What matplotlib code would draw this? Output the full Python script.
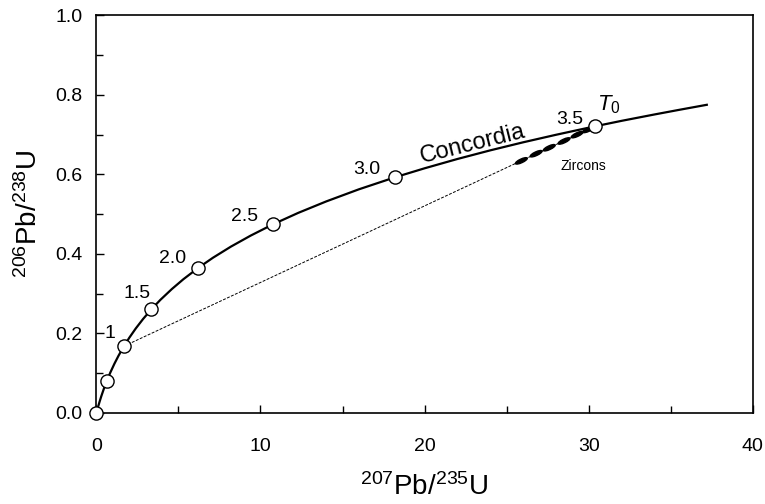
import numpy as np
import matplotlib
matplotlib.use("Agg")
import matplotlib.pyplot as plt
from matplotlib.patches import Ellipse
from matplotlib.transforms import ScaledTranslation

plt.rcParams["font.family"] = ["Liberation Sans", "DejaVu Sans"]
plt.rcParams["mathtext.fontset"] = "custom"
plt.rcParams["mathtext.rm"] = "Liberation Sans"
plt.rcParams["mathtext.it"] = "Liberation Sans:italic"

# ----------------------------
# Data
# ----------------------------
# concordia curve (207Pb/235U, 206Pb/238U)
curve_x = [0, 0.02, 0.05, 0.1, 0.2, 0.3, 0.45, 0.64, 0.85, 1.1, 1.35, 1.68,
           2.0, 2.4, 2.85, 3.35, 3.9, 4.6, 5.3, 6.17, 7.1, 8.2, 9.4, 10.75,
           12.3, 14.0, 16.0, 18.19, 20.0, 22.0, 24.0, 26.0, 28.0, 30.4,
           32.0, 34.0, 35.5, 37.2]
curve_y = [0, 0.0031, 0.0077, 0.0151, 0.0291, 0.0422, 0.0603, 0.0810,
           0.1018, 0.1240, 0.1441, 0.1680, 0.1889, 0.2126, 0.2366, 0.2606,
           0.2845, 0.3117, 0.3363, 0.3638, 0.3903, 0.4184, 0.4460, 0.4742,
           0.5032, 0.5319, 0.5625, 0.5926, 0.6153, 0.6387, 0.6604, 0.6806,
           0.6995, 0.7210, 0.7346, 0.7506, 0.7622, 0.7750]

# age markers on the curve (Ga)
marker_x = [0, 0.64, 1.68, 3.35, 6.17, 10.75, 18.19, 30.4]
marker_y = [0, 0.081, 0.168, 0.261, 0.364, 0.474, 0.593, 0.721]

age_labels = ["1", "1.5", "2.0", "2.5", "3.0", "3.5"]
age_label_x = [0.85, 2.45, 4.65, 9.05, 16.5, 28.85]
age_label_y = [0.20, 0.30, 0.389, 0.493, 0.613, 0.738]

# discordia: lower intercept -> T0
discordia_x = [1.68, 30.4]
discordia_y = [0.168, 0.721]

# zircon analyses
zircon_x = [25.9, 26.8, 27.6, 28.5, 29.3, 30.0]
zircon_y = [0.634, 0.652, 0.667, 0.684, 0.700, 0.713]

# ----------------------------
# Plot
# ----------------------------
fig = plt.figure(figsize=(7.65, 5.04), dpi=100)
ax = fig.add_axes([0.126, 0.1806, 0.858, 0.789])

ax.plot(discordia_x, discordia_y, color="black", linestyle=(0, (3, 1.5)),
        linewidth=0.7, zorder=2)
ax.plot(curve_x, curve_y, color="black", linewidth=1.6, zorder=3)

for zx, zy in zip(zircon_x, zircon_y):
    e = Ellipse((0, 0), width=0.13, height=0.037, angle=25,
                transform=fig.dpi_scale_trans + ScaledTranslation(zx, zy, ax.transData),
                facecolor="black", edgecolor="black", zorder=4)
    ax.add_patch(e)

ax.plot(marker_x, marker_y, linestyle="none", marker="o", markersize=9.5,
        markerfacecolor="white", markeredgecolor="black", markeredgewidth=1.0,
        zorder=5, clip_on=False)

for lab, lx, ly in zip(age_labels, age_label_x, age_label_y):
    ax.text(lx, ly, lab, fontsize=14, ha="center", va="center")

ax.text(31.2, 0.776, r"$T_0$", fontsize=16, ha="center", va="center")
ax.text(22.9, 0.676, "Concordia", fontsize=17, ha="center", va="center",
        rotation=14)
ax.text(29.7, 0.621, "Zircons", fontsize=10, ha="center", va="center")

ax.set_xlim(0, 40)
ax.set_ylim(0, 1.0)
ax.set_xticks([0, 10, 20, 30, 40])
ax.set_xticks([5, 15, 25, 35], minor=True)
ax.set_yticks(np.arange(0, 1.01, 0.2))
ax.set_yticks([0.1, 0.3, 0.5, 0.7, 0.9], minor=True)
ax.set_yticklabels(["0.0", "0.2", "0.4", "0.6", "0.8", "1.0"])
ax.tick_params(which="both", direction="in", labelsize=14, width=1,
               top=False, right=False)
ax.tick_params(which="major", length=6)
ax.tick_params(which="minor", length=5)
ax.tick_params(axis="x", which="major", pad=18)
ax.tick_params(axis="y", which="major", pad=10)
for s in ax.spines.values():
    s.set_linewidth(1.2)

ax.set_xlabel(r"$^{207}$Pb/$^{235}$U", fontsize=20, labelpad=13)
ax.set_ylabel(r"$^{206}$Pb/$^{238}$U", fontsize=20, labelpad=9)

plt.savefig("out.png", dpi=100)
plt.close()
